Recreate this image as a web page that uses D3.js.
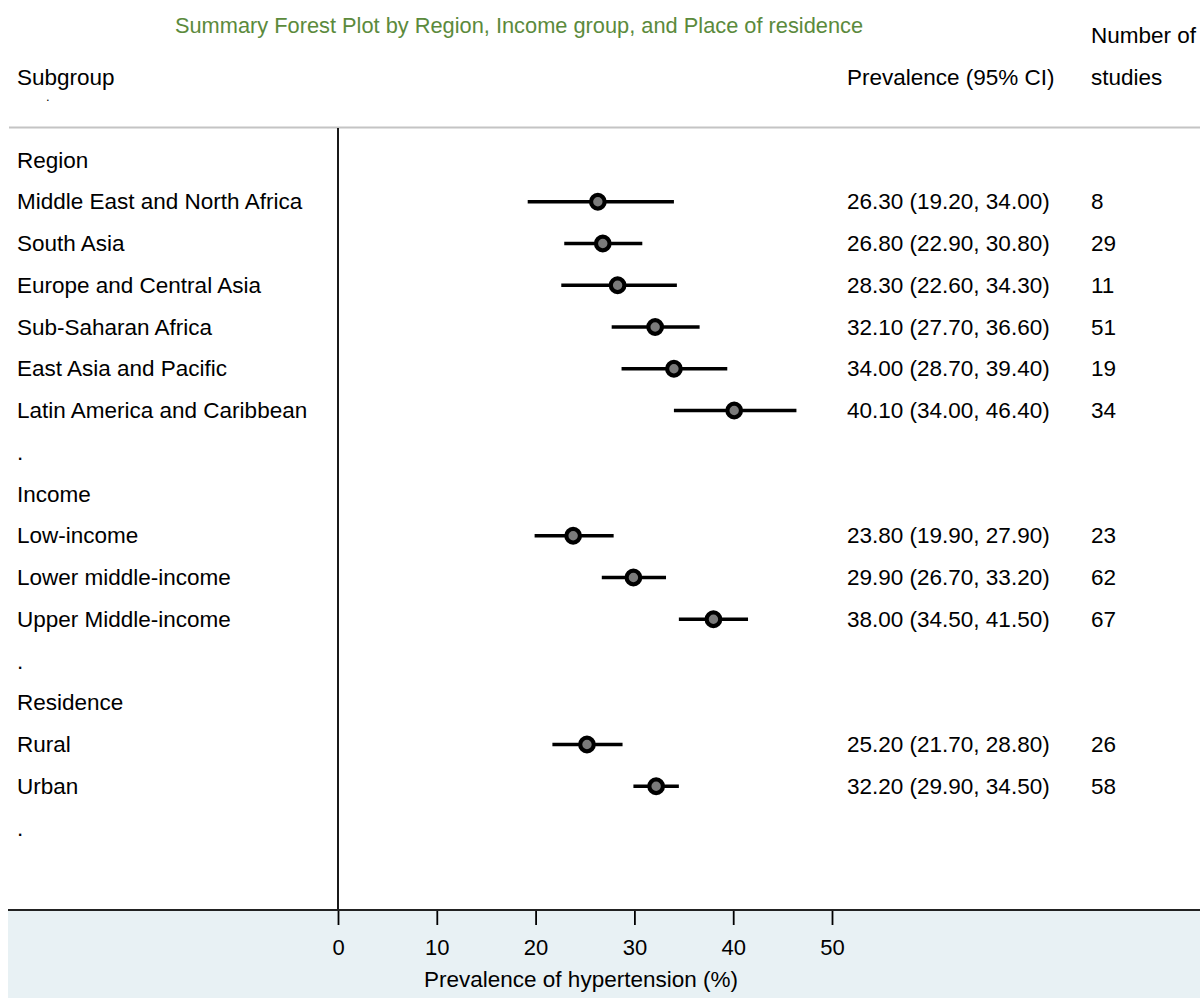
<!DOCTYPE html>
<html>
<head>
<meta charset="utf-8">
<script src="https://cdn.jsdelivr.net/npm/d3@7"></script>
<style>
  body { margin: 0; background: #fff; }
  text { font-family: "Liberation Sans", Arial, sans-serif; }
</style>
</head>
<body>
<svg id="forest"></svg>
<script>
// rows in display order
var labels = ["Region", "Middle East and North Africa", "South Asia", "Europe and Central Asia",
    "Sub-Saharan Africa", "East Asia and Pacific", "Latin America and Caribbean", ".",
    "Income", "Low-income", "Lower middle-income", "Upper Middle-income", ".",
    "Residence", "Rural", "Urban", "."];
var estimates = [null, 26.3, 26.8, 28.3, 32.1, 34.0, 40.1, null,
    null, 23.8, 29.9, 38.0, null,
    null, 25.2, 32.2, null];
var lower = [null, 19.2, 22.9, 22.6, 27.7, 28.7, 34.0, null,
    null, 19.9, 26.7, 34.5, null,
    null, 21.7, 29.9, null];
var upper = [null, 34.0, 30.8, 34.3, 36.6, 39.4, 46.4, null,
    null, 27.9, 33.2, 41.5, null,
    null, 28.8, 34.5, null];
var nStudies = [null, 8, 29, 11, 51, 19, 34, null,
    null, 23, 62, 67, null,
    null, 26, 58, null];
var xTicks = [0, 10, 20, 30, 40, 50];

var W = 1200, H = 998;
var fs = 22.5;

var svg = d3.select("#forest")
    .attr("width", W)
    .attr("height", H);

// scales
var x = d3.scaleLinear().domain([0, 50]).range([338, 832]);
var y = d3.scaleLinear().domain([0, labels.length - 1]).range([160, 828]);

var axisY = 910;

// axis band background
svg.append("rect")
    .attr("x", 8).attr("y", axisY)
    .attr("width", W - 8).attr("height", H - axisY)
    .attr("fill", "#e8f1f4");

// title + column headers
svg.append("text")
    .attr("x", 519).attr("y", 33)
    .attr("text-anchor", "middle")
    .attr("fill", "#5b8a3c")
    .style("font-size", "21.8px")
    .text("Summary Forest Plot by Region, Income group, and Place of residence");

svg.append("text").attr("x", 17).attr("y", 85).style("font-size", fs + "px").text("Subgroup");
svg.append("text").attr("x", 46).attr("y", 101).style("font-size", "13px").text(".");
svg.append("text").attr("x", 847).attr("y", 85).style("font-size", fs + "px").text("Prevalence (95% CI)");
svg.append("text").attr("x", 1091).attr("y", 43).style("font-size", fs + "px").text("Number of");
svg.append("text").attr("x", 1091).attr("y", 85).style("font-size", fs + "px").text("studies");

// header separator
svg.append("line")
    .attr("x1", 9).attr("x2", W)
    .attr("y1", 127.5).attr("y2", 127.5)
    .attr("stroke", "#c4c4c4").attr("stroke-width", 2);

// zero line
svg.append("line")
    .attr("x1", x(0)).attr("x2", x(0))
    .attr("y1", 128).attr("y2", axisY)
    .attr("stroke", "#000").attr("stroke-width", 1.8);

// x axis
var gx = svg.append("g")
    .attr("transform", "translate(0," + axisY + ")")
    .call(d3.axisBottom(x).tickValues(xTicks).tickSize(15).tickPadding(14).tickSizeOuter(0));
gx.select(".domain").remove();
gx.selectAll(".tick line").attr("stroke", "#000").attr("stroke-width", 1.8);
gx.selectAll(".tick text")
    .style("font-size", "22px")
    .style("font-family", "Liberation Sans, Arial, sans-serif")
    .attr("fill", "#000");

svg.append("line")
    .attr("x1", 8).attr("x2", W)
    .attr("y1", axisY).attr("y2", axisY)
    .attr("stroke", "#222").attr("stroke-width", 2);

svg.append("text")
    .attr("x", 581).attr("y", 987)
    .attr("text-anchor", "middle")
    .style("font-size", fs + "px")
    .text("Prevalence of hypertension (%)");

// rows
var rows = labels.map(function(d, i) {
    return {label: d, est: estimates[i], lo: lower[i], hi: upper[i], n: nStudies[i], i: i};
});

svg.selectAll(".lab")
    .data(rows)
    .enter().append("text")
    .attr("class", "lab")
    .attr("x", 17)
    .attr("y", function(d) { return y(d.i) + 7.5; })
    .style("font-size", fs + "px")
    .text(function(d) { return d.label; });

var studies = rows.filter(function(d) { return d.est != null; });

svg.selectAll(".ci")
    .data(studies)
    .enter().append("line")
    .attr("class", "ci")
    .attr("x1", function(d) { return x(d.lo); })
    .attr("x2", function(d) { return x(d.hi); })
    .attr("y1", function(d) { return y(d.i); })
    .attr("y2", function(d) { return y(d.i); })
    .attr("stroke", "#000").attr("stroke-width", 3.5);

svg.selectAll(".pt")
    .data(studies)
    .enter().append("circle")
    .attr("class", "pt")
    .attr("cx", function(d) { return x(d.est); })
    .attr("cy", function(d) { return y(d.i); })
    .attr("r", 6.8)
    .attr("fill", "#7a7a7a")
    .attr("stroke", "#000").attr("stroke-width", 4.2);

svg.selectAll(".citxt")
    .data(studies)
    .enter().append("text")
    .attr("class", "citxt")
    .attr("x", 847)
    .attr("y", function(d) { return y(d.i) + 7.5; })
    .style("font-size", fs + "px")
    .text(function(d) { return d.est.toFixed(2) + " (" + d.lo.toFixed(2) + ", " + d.hi.toFixed(2) + ")"; });

svg.selectAll(".ntxt")
    .data(studies)
    .enter().append("text")
    .attr("class", "ntxt")
    .attr("x", 1091)
    .attr("y", function(d) { return y(d.i) + 7.5; })
    .style("font-size", fs + "px")
    .text(function(d) { return d.n; });
</script>
</body>
</html>
